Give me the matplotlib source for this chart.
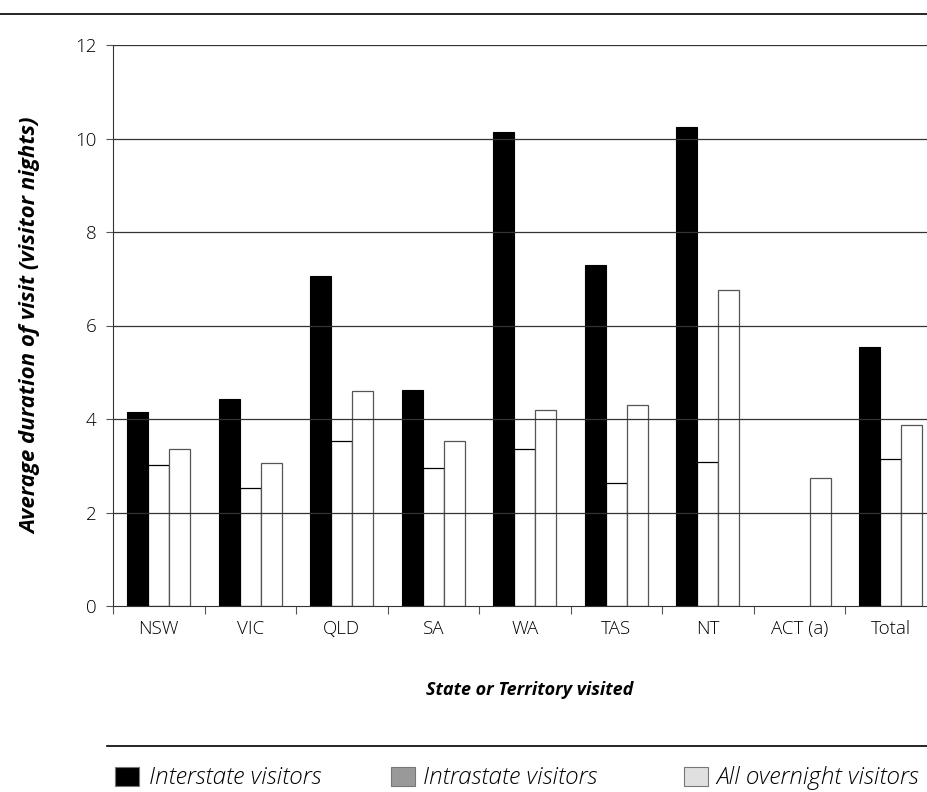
import numpy as np
import matplotlib
matplotlib.use('Agg')
import matplotlib.pyplot as plt
from matplotlib.patches import Rectangle
from matplotlib.lines import Line2D

plt.rcParams['font.family'] = ['Open Sans', 'DejaVu Sans']

states = ['NSW', 'VIC', 'QLD', 'SA', 'WA', 'TAS', 'NT', 'ACT (a)', 'Total']
interstate = [4.15, 4.43, 7.05, 4.62, 10.13, 7.30, 10.25, np.nan, 5.55]
intrastate = [3.02, 2.53, 3.52, 2.95, 3.35, 2.63, 3.08, np.nan, 3.15]
all_overnight = [3.35, 3.05, 4.60, 3.52, 4.20, 4.30, 6.75, 2.73, 3.87]
series_names = ['Interstate visitors', 'Intrastate visitors', 'All overnight visitors']
legend_colors = ['#000000', '#999999', '#e0e0e0']
yticks = [0, 2, 4, 6, 8, 10, 12]

fig = plt.figure(figsize=(9.27, 7.92), dpi=100)
# plot area runs a little past the right edge of the figure
ax = fig.add_axes([113/927, 1 - 606/792, 823.5/927, (606 - 45)/792])

x = np.arange(len(states))
w = 0.23
ax.bar(x - w, interstate, w, color='black', edgecolor='black', linewidth=0.8, zorder=2)
ax.bar(x, intrastate, w, color='white', edgecolor='black', linewidth=0.9, zorder=2)
ax.bar(x + w, all_overnight, w, color='white', edgecolor='#555555', linewidth=0.9, zorder=2)

ax.set_xlim(-0.5, len(states) - 0.5)
ax.set_ylim(0, 12)
ax.set_yticks(yticks)
# gridlines sit on top of the bars in the original
for yv in yticks[1:]:
    ax.axhline(yv, color='#333333', linewidth=0.9, zorder=4)

# x ticks between categories, labels centred below
ax.set_xticks(np.arange(-0.5, len(states), 1.0))
ax.set_xticklabels([])
ax.set_xticks(x, minor=True)
ax.set_xticklabels(states, minor=True)
ax.tick_params(axis='x', which='minor', length=0, pad=10, labelsize=13.5)
ax.tick_params(axis='x', which='major', length=6, color='#555555', direction='out')
ax.tick_params(axis='y', length=5, labelsize=13.5, color='#555555', pad=7)
for lab in ax.get_xticklabels(minor=True) + ax.get_yticklabels():
    lab.set_fontweight('light')

for s in ['top', 'right']:
    ax.spines[s].set_visible(False)
ax.spines['left'].set_color('#333333')
ax.spines['bottom'].set_color('#333333')
ax.spines['bottom'].set_zorder(5)

ax.set_ylabel('Average duration of visit (visitor nights)', fontsize=16,
              fontweight='bold', style='italic', labelpad=24)
fig.text(530/927, 1 - 690/792, 'State or Territory visited', ha='center',
         va='center', fontsize=13, fontweight='bold', style='italic')

# rules
fig.add_artist(Line2D([0, 1], [1 - 14/792, 1 - 14/792], color='black', linewidth=1.2,
                      transform=fig.transFigure))
fig.add_artist(Line2D([107/927, 1], [1 - 746/792, 1 - 746/792], color='black', linewidth=1.2,
                      transform=fig.transFigure))

# legend
patch_x = [115, 391, 684]
text_x = [149, 423, 716]
for px, tx, name, col in zip(patch_x, text_x, series_names, legend_colors):
    fig.add_artist(Rectangle((px/927, 1 - 786/792), 24/927, 19/792, facecolor=col,
                             edgecolor='#777777', linewidth=0.8, transform=fig.transFigure))
    fig.text(tx/927, 1 - 784/792, name, ha='left', va='baseline', fontsize=17.5,
             style='italic', fontweight='light')

fig.savefig('out.png', dpi=100)
